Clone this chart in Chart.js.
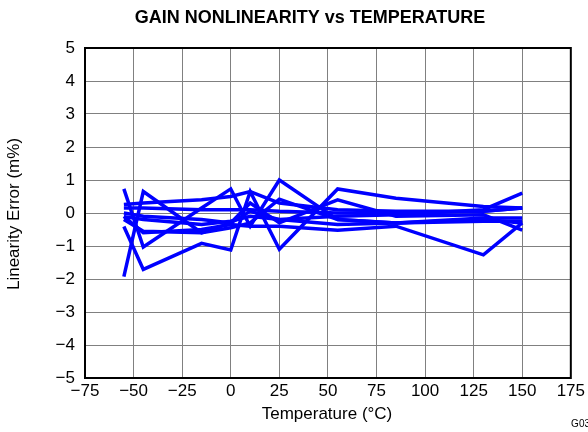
<!DOCTYPE html>
<html>
<head>
<meta charset="utf-8">
<script src="https://cdn.jsdelivr.net/npm/chart.js@4"></script>
<style>
  html, body { margin: 0; padding: 0; background: #fff; }
  #wrap { width: 588px; height: 432px; position: relative; }
</style>
</head>
<body>
<div id="wrap"><canvas id="chart" width="588" height="432"></canvas></div>
<script>
const temps = [-55, -45, -15, 0, 10, 25, 55, 85, 130, 150];

const unit1 = [-1.93, 0.65, -0.6, -0.3, 0.05, -0.2, -0.1, -0.05, 0.1, 0.6];
const unit2 = [0.73, -1.03, 0.15, 0.73, -0.4, 1.0, -0.2, -0.3, -0.2, -0.3];
const unit3 = [-0.41, -1.71, -0.92, -1.12, 0.65, -1.1, 0.73, 0.45, 0.2, 0.15];
const unit4 = [0.26, 0.3, 0.4, 0.5, 0.65, 0.3, 0.1, 0.05, 0.05, 0.15];
const unit5 = [0.15, 0.15, 0.1, 0.1, 0.1, 0.05, 0.0, 0.0, 0.05, 0.15];
const unit6 = [-0.11, -0.2, -0.35, -0.25, -0.1, -0.2, -0.35, -0.3, -0.15, -0.15];
const unit7 = [-0.2, -0.55, -0.6, -0.45, -0.3, 0.42, -0.2, -0.3, -0.25, -0.25];
const unit8 = [0.0, -0.1, -0.2, -0.3, 0.3, -0.3, 0.4, -0.1, -0.05, -0.52];
const unit9 = [-0.1, -0.6, -0.5, -0.35, -0.4, -0.4, -0.52, -0.4, -1.27, -0.3];

const units = [unit1, unit2, unit3, unit4, unit5, unit6, unit7, unit8, unit9];

const xTicksMin = -75, xTicksMax = 175, xStep = 25;
const yTicksMin = -5, yTicksMax = 5, yStep = 1;

const FONT = 'Arial, "Liberation Sans", Helvetica, sans-serif';
const minus = (v) => String(v).replace('-', '\u2212');

// frame + texts around the plot
const decor = {
  id: 'decor',
  afterDraw(chart) {
    const { ctx, chartArea: a } = chart;
    ctx.save();
    ctx.strokeStyle = '#000';
    ctx.lineWidth = 2;
    ctx.strokeRect(a.left, a.top, a.right - a.left, a.bottom - a.top);

    ctx.fillStyle = '#000';
    ctx.textAlign = 'center';
    ctx.textBaseline = 'middle';
    ctx.font = 'bold 18px ' + FONT;
    ctx.fillText('GAIN NONLINEARITY vs TEMPERATURE', 310, 18);

    ctx.font = '17px ' + FONT;
    ctx.fillText('Temperature (\u00B0C)', 327, 414);

    ctx.save();
    ctx.translate(14, 214);
    ctx.rotate(-Math.PI / 2);
    ctx.fillText('Linearity Error (m%)', 0, 0);
    ctx.restore();

    ctx.font = '10px ' + FONT;
    ctx.textAlign = 'right';
    ctx.fillText('G03', 590, 424);
    ctx.restore();
  }
};

const datasets = units.map((vals, i) => ({
  label: 'Unit ' + (i + 1),
  data: temps.map((t, j) => ({ x: t, y: vals[j] })),
  borderColor: '#0000ff',
  backgroundColor: '#0000ff',
  borderWidth: 3.5,
  pointRadius: 0,
  tension: 0,
  fill: false
}));

new Chart(document.getElementById('chart'), {
  type: 'line',
  data: { datasets },
  options: {
    responsive: false,
    animation: false,
    layout: { padding: { left: 0, top: 48, right: 16, bottom: 0 } },
    plugins: { legend: { display: false }, tooltip: { enabled: false } },
    scales: {
      x: {
        type: 'linear',
        min: xTicksMin,
        max: xTicksMax,
        ticks: {
          stepSize: xStep,
          color: '#000',
          font: { family: FONT, size: 17 },
          padding: 3,
          maxRotation: 0,
          autoSkip: false,
          callback: (v) => minus(v)
        },
        grid: { color: '#808080', lineWidth: 1, drawTicks: false },
        border: { display: false },
        afterFit: (s) => { s.height = 54; }
      },
      y: {
        min: yTicksMin,
        max: yTicksMax,
        ticks: {
          stepSize: yStep,
          color: '#000',
          font: { family: FONT, size: 17 },
          padding: 10,
          callback: (v) => minus(v)
        },
        grid: { color: '#808080', lineWidth: 1, drawTicks: false },
        border: { display: false },
        afterFit: (s) => { s.width = 85; }
      }
    }
  },
  plugins: [decor]
});
</script>
</body>
</html>
